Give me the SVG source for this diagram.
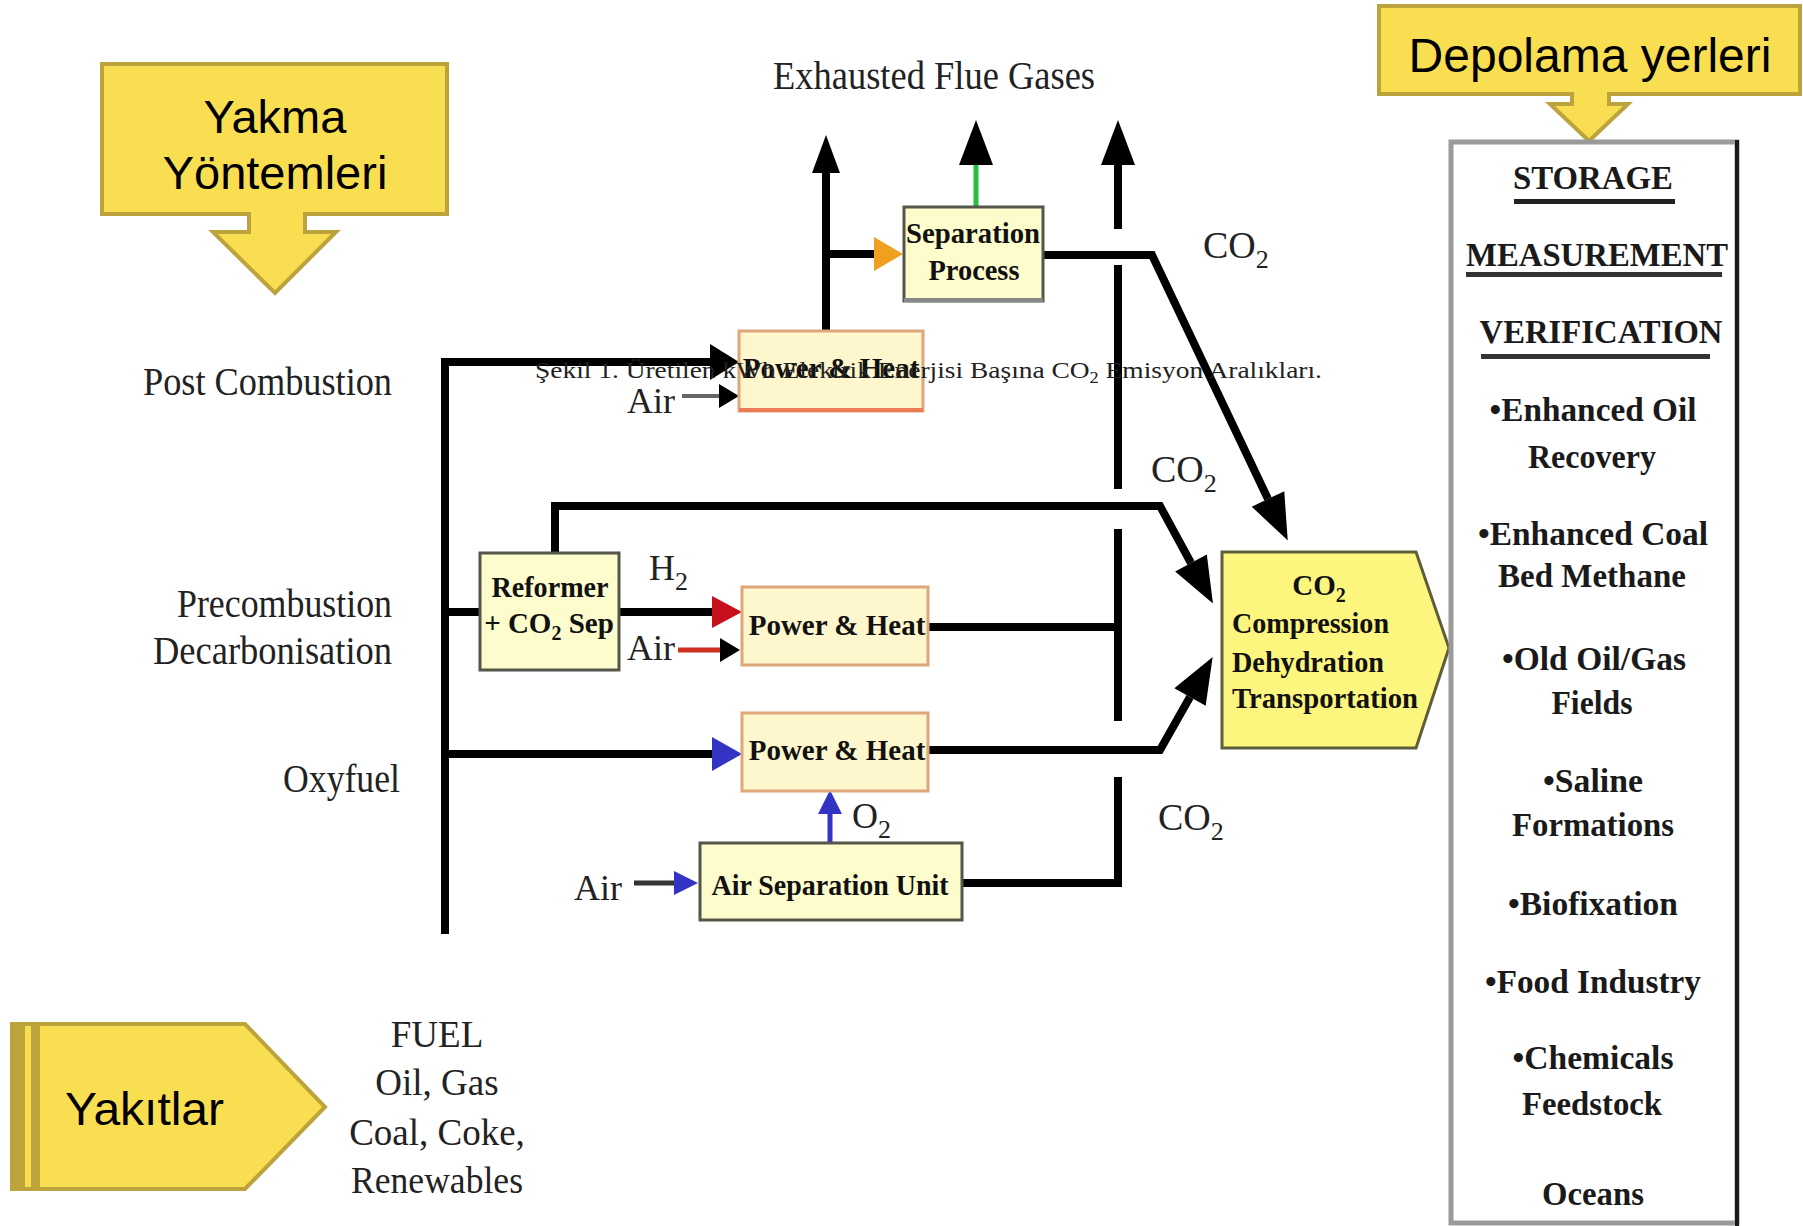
<svg xmlns="http://www.w3.org/2000/svg" width="1803" height="1226" viewBox="0 0 1803 1226">
<style>
.call{fill:#f9de52;stroke:#bca33c;stroke-width:4}
.callbar{fill:#bca33c}
.ct{font-family:"Liberation Sans",Arial,sans-serif;fill:#000}
.lbl{font-family:"Liberation Serif","Times New Roman",serif;fill:#222}
.bt{font-family:"Liberation Serif","Times New Roman",serif;font-weight:bold;fill:#111;font-size:29px}
.st{font-family:"Liberation Serif","Times New Roman",serif;font-weight:bold;fill:#1a1a1a;font-size:34px;text-anchor:middle}
.ph{fill:#fef6cc;stroke:#dca77a;stroke-width:3}
.gb{fill:#fdfccc;stroke:#55554a;stroke-width:3}
.ln{fill:none;stroke:#000;stroke-width:8}
</style>
<defs>
<marker id="aBig" markerUnits="userSpaceOnUse" markerWidth="46" markerHeight="36" refX="0" refY="18" orient="auto" overflow="visible"><path d="M0,0 L46,18 L0,36 Z" fill="#000"/></marker>
<marker id="aUp1" markerUnits="userSpaceOnUse" markerWidth="38" markerHeight="28" refX="0" refY="14" orient="auto" overflow="visible"><path d="M0,0 L38,14 L0,28 Z" fill="#000"/></marker>
<marker id="aUp2" markerUnits="userSpaceOnUse" markerWidth="45" markerHeight="34" refX="0" refY="17" orient="auto" overflow="visible"><path d="M0,0 L45,17 L0,34 Z" fill="#000"/></marker>
<marker id="aIn" markerUnits="userSpaceOnUse" markerWidth="29" markerHeight="36" refX="0" refY="18" orient="auto" overflow="visible"><path d="M0,0 L29,18 L0,36 Z" fill="#000"/></marker>
<marker id="aSmall" markerUnits="userSpaceOnUse" markerWidth="20" markerHeight="24" refX="0" refY="12" orient="auto" overflow="visible"><path d="M0,0 L20,12 L0,24 Z" fill="#000"/></marker>
<marker id="aOrange" markerUnits="userSpaceOnUse" markerWidth="29" markerHeight="34" refX="0" refY="17" orient="auto" overflow="visible"><path d="M0,0 L29,17 L0,34 Z" fill="#f0a020"/></marker>
<marker id="aRed" markerUnits="userSpaceOnUse" markerWidth="30" markerHeight="32" refX="0" refY="16" orient="auto" overflow="visible"><path d="M0,0 L30,16 L0,32 Z" fill="#c8101c"/></marker>
<marker id="aBlue" markerUnits="userSpaceOnUse" markerWidth="30" markerHeight="34" refX="0" refY="17" orient="auto" overflow="visible"><path d="M0,0 L30,17 L0,34 Z" fill="#3434c4"/></marker>
<marker id="aBlueS" markerUnits="userSpaceOnUse" markerWidth="24" markerHeight="24" refX="0" refY="12" orient="auto" overflow="visible"><path d="M0,0 L24,12 L0,24 Z" fill="#3434c4"/></marker>
</defs>
<rect width="1803" height="1226" fill="#fff"/>

<g id="connectors">
<path class="ln" d="M826,331 V173" marker-end="url(#aUp1)"/>
<path d="M976,207 V165" fill="none" stroke="#22c040" stroke-width="5" marker-end="url(#aUp2)"/>
<path class="ln" d="M1118,229 V165" marker-end="url(#aUp2)"/>
<path class="ln" d="M1118,265 V489"/>
<path class="ln" d="M1118,529 V721"/>
<path class="ln" d="M962,883 H1118 V777"/>
<path class="ln" d="M928,627 H1118"/>
<path class="ln" stroke-width="10" d="M826,254 H874" marker-end="url(#aOrange)"/>
<path class="ln" stroke-width="10" d="M1043,255 H1152 L1268,499" marker-end="url(#aBig)"/>
<path class="ln" d="M445,934 V362 H710" marker-end="url(#aIn)"/>
<path d="M682,396 H719" fill="none" stroke="#666" stroke-width="4" marker-end="url(#aSmall)"/>
<path class="ln" d="M445,612 H480"/>
<path class="ln" d="M555,553 V506 H1160 L1191,563" marker-end="url(#aBig)"/>
<path class="ln" d="M619,612 H712" marker-end="url(#aRed)"/>
<path d="M678,650 H720" fill="none" stroke="#d03020" stroke-width="5" marker-end="url(#aSmall)"/>
<path class="ln" d="M445,754 H712" marker-end="url(#aBlue)"/>
<path class="ln" d="M928,750 H1160 L1190,697" marker-end="url(#aBig)"/>
<path d="M830,843 V814" fill="none" stroke="#3434c4" stroke-width="5" marker-end="url(#aBlueS)"/>
<path d="M634,883 H674" fill="none" stroke="#333" stroke-width="5" marker-end="url(#aBlueS)"/>
</g>

<g id="callout-yakma">
<path class="call" d="M102,64 H447 V214 H305 V232 H336 L275,293 L213,232 H249 V214 H102 Z"/>
<text class="ct" x="275" y="133" font-size="47" text-anchor="middle">Yakma</text>
<text class="ct" x="275" y="189" font-size="47" text-anchor="middle">Yöntemleri</text>
</g>

<g id="callout-depolama">
<path class="call" d="M1379,6 H1800 V94 H1609 V104 H1628 L1589,141 L1550,104 H1572 V94 H1379 Z"/>
<text class="ct" x="1590" y="72" font-size="48" text-anchor="middle">Depolama yerleri</text>
</g>

<g id="callout-yakitlar">
<path class="call" d="M12,1024 H245 L325,1107 L245,1189 H12 Z"/>
<rect class="callbar" x="11" y="1022" width="14" height="169"/>
<rect class="callbar" x="31" y="1022" width="9" height="169"/>
<text class="ct" x="65" y="1125" font-size="47" textLength="159" lengthAdjust="spacingAndGlyphs">Yakıtlar</text>
</g>

<g id="labels">
<text class="lbl" x="773" y="89" font-size="40" textLength="322" lengthAdjust="spacingAndGlyphs">Exhausted Flue Gases</text>
<text class="lbl" x="143" y="395" font-size="39" textLength="249" lengthAdjust="spacingAndGlyphs">Post Combustion</text>
<text class="lbl" x="392" y="617" font-size="39" text-anchor="end" textLength="215" lengthAdjust="spacingAndGlyphs">Precombustion</text>
<text class="lbl" x="392" y="664" font-size="39" text-anchor="end" textLength="239" lengthAdjust="spacingAndGlyphs">Decarbonisation</text>
<text class="lbl" x="400" y="792" font-size="39" text-anchor="end" textLength="117" lengthAdjust="spacingAndGlyphs">Oxyfuel</text>
<g class="lbl" fill="#333" font-size="37" text-anchor="middle">
<text x="437" y="1047">FUEL</text>
<text x="437" y="1095">Oil, Gas</text>
<text x="437" y="1145">Coal, Coke,</text>
<text x="437" y="1193" textLength="172" lengthAdjust="spacingAndGlyphs">Renewables</text>
</g>
<text class="lbl" x="1203" y="258" font-size="38" fill="#333">CO<tspan font-size="26" dy="10">2</tspan></text>
<text class="lbl" x="1151" y="482" font-size="38" fill="#333">CO<tspan font-size="26" dy="10">2</tspan></text>
<text class="lbl" x="1158" y="830" font-size="38" fill="#333">CO<tspan font-size="26" dy="10">2</tspan></text>
<text class="lbl" x="649" y="580" font-size="36">H<tspan font-size="26" dy="10">2</tspan></text>
<text class="lbl" x="852" y="828" font-size="36">O<tspan font-size="26" dy="10">2</tspan></text>
<text class="lbl" x="627" y="413" font-size="36" fill="#444">Air</text>
<text class="lbl" x="627" y="660" font-size="36" fill="#444">Air</text>
<text class="lbl" x="574" y="900" font-size="36" fill="#444">Air</text>
</g>

<g id="node-post-power">
<rect class="ph" x="739" y="331" width="184" height="80"/>
<line x1="739" y1="410" x2="923" y2="410" stroke="#ec7c58" stroke-width="4"/>
<text class="bt" x="831" y="378" text-anchor="middle">Power &amp; Heat</text>
</g>

<g id="node-separation">
<rect class="gb" x="904" y="207" width="139" height="94"/>
<line x1="904" y1="300" x2="1043" y2="300" stroke="#888" stroke-width="4"/>
<text class="bt" x="973" y="243" text-anchor="middle" textLength="134" lengthAdjust="spacingAndGlyphs">Separation</text>
<text class="bt" x="974" y="280" text-anchor="middle" textLength="91" lengthAdjust="spacingAndGlyphs">Process</text>
</g>

<g id="node-reformer">
<rect class="gb" x="480" y="553" width="139" height="117"/>
<text class="bt" x="550" y="597" text-anchor="middle" textLength="117" lengthAdjust="spacingAndGlyphs">Reformer</text>
<text class="bt" x="549" y="633" text-anchor="middle">+ CO<tspan font-size="20" dy="7">2</tspan><tspan dy="-7"> Sep</tspan></text>
</g>

<g id="node-pre-power">
<rect class="ph" x="742" y="587" width="186" height="78"/>
<text class="bt" x="837" y="635" text-anchor="middle">Power &amp; Heat</text>
</g>

<g id="node-oxy-power">
<rect class="ph" x="742" y="713" width="186" height="78"/>
<text class="bt" x="837" y="760" text-anchor="middle">Power &amp; Heat</text>
</g>

<g id="node-asu">
<rect class="gb" x="700" y="843" width="262" height="77"/>
<text class="bt" x="830" y="895" text-anchor="middle" textLength="237" lengthAdjust="spacingAndGlyphs">Air Separation Unit</text>
</g>

<g id="node-compression">
<path d="M1222,552 H1416 L1449,648 L1416,748 H1222 Z" fill="#fdf67e" stroke="#5e5e3a" stroke-width="3"/>
<text class="bt" x="1319" y="595" text-anchor="middle">CO<tspan font-size="20" dy="7">2</tspan></text>
<text class="bt" x="1232" y="633" textLength="157" lengthAdjust="spacingAndGlyphs">Compression</text>
<text class="bt" x="1232" y="672" textLength="152" lengthAdjust="spacingAndGlyphs">Dehydration</text>
<text class="bt" x="1232" y="708" textLength="186" lengthAdjust="spacingAndGlyphs">Transportation</text>
</g>

<g id="node-storage">
<rect x="1451" y="142" width="286" height="1081" fill="#fff" stroke="#9a9a9a" stroke-width="5"/>
<line x1="1737" y1="140" x2="1737" y2="1226" stroke="#1a1a1a" stroke-width="4"/>
<text class="st" x="1593" y="189" textLength="160" lengthAdjust="spacingAndGlyphs">STORAGE</text>
<rect x="1514" y="199" width="161" height="5" fill="#222"/>
<text class="st" x="1597" y="266" textLength="262" lengthAdjust="spacingAndGlyphs">MEASUREMENT</text>
<rect x="1466" y="272" width="256" height="5" fill="#333"/>
<text class="st" x="1601" y="343" textLength="243" lengthAdjust="spacingAndGlyphs">VERIFICATION</text>
<rect x="1481" y="354" width="229" height="5" fill="#333"/>
<text class="st" x="1593" y="421" textLength="207" lengthAdjust="spacingAndGlyphs">•Enhanced Oil</text>
<text class="st" x="1592" y="468" textLength="128" lengthAdjust="spacingAndGlyphs">Recovery</text>
<text class="st" x="1593" y="545" textLength="230" lengthAdjust="spacingAndGlyphs">•Enhanced Coal</text>
<text class="st" x="1592" y="587" textLength="188" lengthAdjust="spacingAndGlyphs">Bed Methane</text>
<text class="st" x="1594" y="670" textLength="184" lengthAdjust="spacingAndGlyphs">•Old Oil/Gas</text>
<text class="st" x="1592" y="714" textLength="81" lengthAdjust="spacingAndGlyphs">Fields</text>
<text class="st" x="1593" y="792" textLength="100" lengthAdjust="spacingAndGlyphs">•Saline</text>
<text class="st" x="1593" y="836" textLength="162" lengthAdjust="spacingAndGlyphs">Formations</text>
<text class="st" x="1593" y="915" textLength="170" lengthAdjust="spacingAndGlyphs">•Biofixation</text>
<text class="st" x="1593" y="993" textLength="216" lengthAdjust="spacingAndGlyphs">•Food Industry</text>
<text class="st" x="1593" y="1069" textLength="161" lengthAdjust="spacingAndGlyphs">•Chemicals</text>
<text class="st" x="1592" y="1115" textLength="140" lengthAdjust="spacingAndGlyphs">Feedstock</text>
<text class="st" x="1593" y="1205" textLength="102" lengthAdjust="spacingAndGlyphs">Oceans</text>
</g>

<g id="caption">
<text class="lbl" x="535" y="378" font-size="24" fill="#111" textLength="787" lengthAdjust="spacingAndGlyphs">Şekil 1. Üretilen kWh Elektrik Enerjisi Başına CO<tspan font-size="16" dy="5">2</tspan><tspan dy="-5"> Emisyon Aralıkları.</tspan></text>
</g>
</svg>
